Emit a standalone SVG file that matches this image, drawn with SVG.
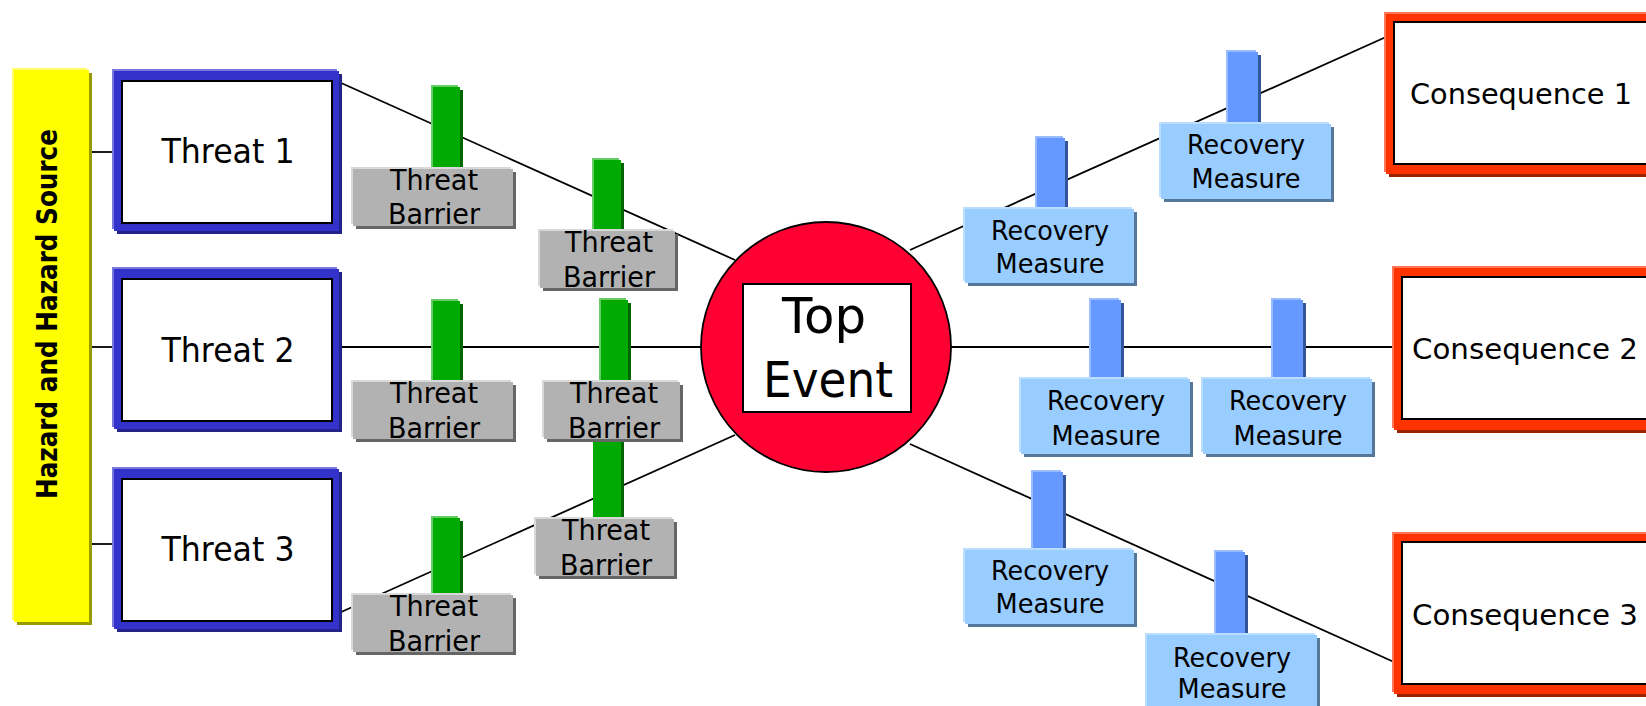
<svg xmlns="http://www.w3.org/2000/svg" width="1646" height="706" viewBox="0 0 1646 706">
<style>
text{font-family:"DejaVu Sans","Liberation Sans",sans-serif;fill:#000;text-anchor:middle}
.hz{font-weight:bold;font-size:29px}
.tl{font-size:34px}
.cl{font-size:29px}
.te{font-size:50px}
.bl{font-size:28px}
.rl{font-size:27px}
.ln{stroke:#000;stroke-width:1.8;fill:none}
.yh{fill:#FFFF66}.ym{fill:#FFFF00}.ys{fill:#999900}
.bh{fill:#7777DD}.bm{fill:#3333CC}.bs{fill:#222288}
.rh{fill:#FF7755}.rm{fill:#FF3300}.rs{fill:#992200}
.gh{fill:#66CC66}.gm{fill:#00AA00}.gs{fill:#006600}
.ah{fill:#D9D9D9}.am{fill:#B2B2B2}.as{fill:#666666}
.ph{fill:#99BBFF}.pm{fill:#6699FF}.ps{fill:#335599}
.lh{fill:#BBDDFF}.lm{fill:#99CCFF}.ls{fill:#557799}
.in{fill:#fff;stroke:#000;stroke-width:2}
.circ{fill:#FF0033;stroke:#000;stroke-width:1.8}
</style>

<g id="connectors">
<line class="ln" x1="90" y1="152" x2="114" y2="152"/>
<line class="ln" x1="90" y1="347" x2="114" y2="347"/>
<line class="ln" x1="90" y1="544" x2="114" y2="544"/>
<line class="ln" x1="339" y1="82" x2="735" y2="260"/>
<line class="ln" x1="339" y1="347" x2="702" y2="347"/>
<line class="ln" x1="339" y1="613" x2="735" y2="435"/>
<line class="ln" x1="910" y1="250" x2="1386" y2="37"/>
<line class="ln" x1="951" y1="347" x2="1394" y2="347"/>
<line class="ln" x1="910" y1="444" x2="1394" y2="662"/>
</g>

<g id="hazard">
<rect class="ys" x="17" y="73" width="75" height="552"/>
<rect class="yh" x="12" y="68" width="75" height="552"/>
<rect class="ym" x="14" y="70" width="75" height="552"/>
<text class="hz" transform="translate(57,314) rotate(-90)" textLength="370" lengthAdjust="spacingAndGlyphs">Hazard and Hazard Source</text>
</g>

<g id="threat1">
<rect class="bs" x="117" y="74" width="225" height="160"/>
<rect class="bh" x="112" y="69" width="225" height="160"/>
<rect class="bm" x="114" y="71" width="225" height="160"/>
<rect class="in" x="122" y="81" width="210" height="142"/>
<text class="tl" x="228" y="163" textLength="133" lengthAdjust="spacingAndGlyphs">Threat 1</text>
</g>
<g id="threat2">
<rect class="bs" x="117" y="272" width="225" height="160"/>
<rect class="bh" x="112" y="267" width="225" height="160"/>
<rect class="bm" x="114" y="269" width="225" height="160"/>
<rect class="in" x="122" y="279" width="210" height="142"/>
<text class="tl" x="228" y="362" textLength="133" lengthAdjust="spacingAndGlyphs">Threat 2</text>
</g>
<g id="threat3">
<rect class="bs" x="117" y="472" width="225" height="160"/>
<rect class="bh" x="112" y="467" width="225" height="160"/>
<rect class="bm" x="114" y="469" width="225" height="160"/>
<rect class="in" x="122" y="479" width="210" height="142"/>
<text class="tl" x="228" y="561" textLength="133" lengthAdjust="spacingAndGlyphs">Threat 3</text>
</g>

<g id="top-event">
<circle class="circ" cx="826" cy="347" r="125"/>
<rect class="in" x="743" y="284" width="168" height="128"/>
<text class="te" x="824" y="333" textLength="84" lengthAdjust="spacingAndGlyphs">Top</text>
<text class="te" x="828" y="397" textLength="130" lengthAdjust="spacingAndGlyphs">Event</text>
</g>

<g id="consequence1">
<rect class="rs" x="1389" y="17" width="280" height="160"/>
<rect class="rh" x="1384" y="12" width="280" height="160"/>
<rect class="rm" x="1386" y="14" width="280" height="160"/>
<rect class="in" x="1394" y="22" width="270" height="142"/>
<text class="cl" x="1521" y="104" textLength="222" lengthAdjust="spacingAndGlyphs">Consequence 1</text>
</g>
<g id="consequence2">
<rect class="rs" x="1397" y="271" width="280" height="162"/>
<rect class="rh" x="1392" y="266" width="280" height="162"/>
<rect class="rm" x="1394" y="268" width="280" height="162"/>
<rect class="in" x="1402" y="277" width="270" height="142"/>
<text class="cl" x="1525" y="359" textLength="226" lengthAdjust="spacingAndGlyphs">Consequence 2</text>
</g>
<g id="consequence3">
<rect class="rs" x="1397" y="537" width="280" height="160"/>
<rect class="rh" x="1392" y="532" width="280" height="160"/>
<rect class="rm" x="1394" y="534" width="280" height="160"/>
<rect class="in" x="1402" y="542" width="270" height="142"/>
<text class="cl" x="1525" y="625" textLength="226" lengthAdjust="spacingAndGlyphs">Consequence 3</text>
</g>

<g id="barrier1">
<rect class="gs" x="436" y="90" width="27" height="82"/>
<rect class="gh" x="431" y="85" width="27" height="82"/>
<rect class="gm" x="433" y="87" width="27" height="82"/>
<rect class="as" x="356" y="172" width="160" height="57"/>
<rect class="ah" x="351" y="167" width="160" height="57"/>
<rect class="am" x="353" y="169" width="160" height="57"/>
<text class="bl" x="434" y="190" textLength="88" lengthAdjust="spacingAndGlyphs">Threat</text>
<text class="bl" x="434" y="224" textLength="92" lengthAdjust="spacingAndGlyphs">Barrier</text>
</g>
<g id="barrier2">
<rect class="gs" x="597" y="163" width="27" height="71"/>
<rect class="gh" x="592" y="158" width="27" height="71"/>
<rect class="gm" x="594" y="160" width="27" height="71"/>
<rect class="as" x="543" y="234" width="135" height="57"/>
<rect class="ah" x="538" y="229" width="135" height="57"/>
<rect class="am" x="540" y="231" width="135" height="57"/>
<text class="bl" x="609" y="252" textLength="88" lengthAdjust="spacingAndGlyphs">Threat</text>
<text class="bl" x="609" y="287" textLength="92" lengthAdjust="spacingAndGlyphs">Barrier</text>
</g>
<g id="barrier3">
<rect class="gs" x="436" y="304" width="27" height="81"/>
<rect class="gh" x="431" y="299" width="27" height="81"/>
<rect class="gm" x="433" y="301" width="27" height="81"/>
<rect class="as" x="356" y="385" width="160" height="57"/>
<rect class="ah" x="351" y="380" width="160" height="57"/>
<rect class="am" x="353" y="382" width="160" height="57"/>
<text class="bl" x="434" y="403" textLength="88" lengthAdjust="spacingAndGlyphs">Threat</text>
<text class="bl" x="434" y="438" textLength="92" lengthAdjust="spacingAndGlyphs">Barrier</text>
</g>
<g id="barrier5">
<rect class="gs" x="596" y="405" width="28" height="117"/>
<rect class="gm" x="593" y="402" width="28" height="117"/>
<rect class="as" x="539" y="522" width="138" height="57"/>
<rect class="ah" x="534" y="517" width="138" height="57"/>
<rect class="am" x="536" y="519" width="138" height="57"/>
<text class="bl" x="606" y="540" textLength="88" lengthAdjust="spacingAndGlyphs">Threat</text>
<text class="bl" x="606" y="575" textLength="92" lengthAdjust="spacingAndGlyphs">Barrier</text>
</g>
<g id="barrier4">
<rect class="gs" x="604" y="303" width="27" height="82"/>
<rect class="gh" x="599" y="298" width="27" height="82"/>
<rect class="gm" x="601" y="300" width="27" height="82"/>
<rect class="as" x="547" y="385" width="136" height="57"/>
<rect class="ah" x="542" y="380" width="136" height="57"/>
<rect class="am" x="544" y="382" width="136" height="57"/>
<text class="bl" x="614" y="403" textLength="88" lengthAdjust="spacingAndGlyphs">Threat</text>
<text class="bl" x="614" y="438" textLength="92" lengthAdjust="spacingAndGlyphs">Barrier</text>
</g>
<g id="barrier6">
<rect class="gs" x="436" y="521" width="27" height="77"/>
<rect class="gh" x="431" y="516" width="27" height="77"/>
<rect class="gm" x="433" y="518" width="27" height="77"/>
<rect class="as" x="356" y="598" width="160" height="57"/>
<rect class="ah" x="351" y="593" width="160" height="57"/>
<rect class="am" x="353" y="595" width="160" height="57"/>
<text class="bl" x="434" y="616" textLength="88" lengthAdjust="spacingAndGlyphs">Threat</text>
<text class="bl" x="434" y="651" textLength="92" lengthAdjust="spacingAndGlyphs">Barrier</text>
</g>

<g id="recovery1">
<rect class="ps" x="1040" y="141" width="28" height="71"/>
<rect class="ph" x="1035" y="136" width="28" height="71"/>
<rect class="pm" x="1037" y="138" width="28" height="71"/>
<rect class="ls" x="968" y="212" width="169" height="74"/>
<rect class="lh" x="963" y="207" width="169" height="74"/>
<rect class="lm" x="965" y="209" width="169" height="74"/>
<text class="rl" x="1050" y="240" textLength="118" lengthAdjust="spacingAndGlyphs">Recovery</text>
<text class="rl" x="1050" y="273" textLength="109" lengthAdjust="spacingAndGlyphs">Measure</text>
</g>
<g id="recovery2">
<rect class="ps" x="1231" y="55" width="30" height="72"/>
<rect class="ph" x="1226" y="50" width="30" height="72"/>
<rect class="pm" x="1228" y="52" width="30" height="72"/>
<rect class="ls" x="1164" y="127" width="170" height="75"/>
<rect class="lh" x="1159" y="122" width="170" height="75"/>
<rect class="lm" x="1161" y="124" width="170" height="75"/>
<text class="rl" x="1246" y="154" textLength="118" lengthAdjust="spacingAndGlyphs">Recovery</text>
<text class="rl" x="1246" y="188" textLength="109" lengthAdjust="spacingAndGlyphs">Measure</text>
</g>
<g id="recovery3">
<rect class="ps" x="1094" y="303" width="30" height="79"/>
<rect class="ph" x="1089" y="298" width="30" height="79"/>
<rect class="pm" x="1091" y="300" width="30" height="79"/>
<rect class="ls" x="1024" y="382" width="169" height="75"/>
<rect class="lh" x="1019" y="377" width="169" height="75"/>
<rect class="lm" x="1021" y="379" width="169" height="75"/>
<text class="rl" x="1106" y="410" textLength="118" lengthAdjust="spacingAndGlyphs">Recovery</text>
<text class="rl" x="1106" y="445" textLength="109" lengthAdjust="spacingAndGlyphs">Measure</text>
</g>
<g id="recovery4">
<rect class="ps" x="1276" y="303" width="30" height="79"/>
<rect class="ph" x="1271" y="298" width="30" height="79"/>
<rect class="pm" x="1273" y="300" width="30" height="79"/>
<rect class="ls" x="1206" y="382" width="169" height="75"/>
<rect class="lh" x="1201" y="377" width="169" height="75"/>
<rect class="lm" x="1203" y="379" width="169" height="75"/>
<text class="rl" x="1288" y="410" textLength="118" lengthAdjust="spacingAndGlyphs">Recovery</text>
<text class="rl" x="1288" y="445" textLength="109" lengthAdjust="spacingAndGlyphs">Measure</text>
</g>
<g id="recovery5">
<rect class="ps" x="1036" y="475" width="30" height="78"/>
<rect class="ph" x="1031" y="470" width="30" height="78"/>
<rect class="pm" x="1033" y="472" width="30" height="78"/>
<rect class="ls" x="968" y="553" width="169" height="74"/>
<rect class="lh" x="963" y="548" width="169" height="74"/>
<rect class="lm" x="965" y="550" width="169" height="74"/>
<text class="rl" x="1050" y="580" textLength="118" lengthAdjust="spacingAndGlyphs">Recovery</text>
<text class="rl" x="1050" y="613" textLength="109" lengthAdjust="spacingAndGlyphs">Measure</text>
</g>
<g id="recovery6">
<rect class="ps" x="1219" y="555" width="29" height="83"/>
<rect class="ph" x="1214" y="550" width="29" height="83"/>
<rect class="pm" x="1216" y="552" width="29" height="83"/>
<rect class="ls" x="1150" y="638" width="170" height="75"/>
<rect class="lh" x="1145" y="633" width="170" height="75"/>
<rect class="lm" x="1147" y="635" width="170" height="75"/>
<text class="rl" x="1232" y="667" textLength="118" lengthAdjust="spacingAndGlyphs">Recovery</text>
<text class="rl" x="1232" y="698" textLength="109" lengthAdjust="spacingAndGlyphs">Measure</text>
</g>
</svg>
